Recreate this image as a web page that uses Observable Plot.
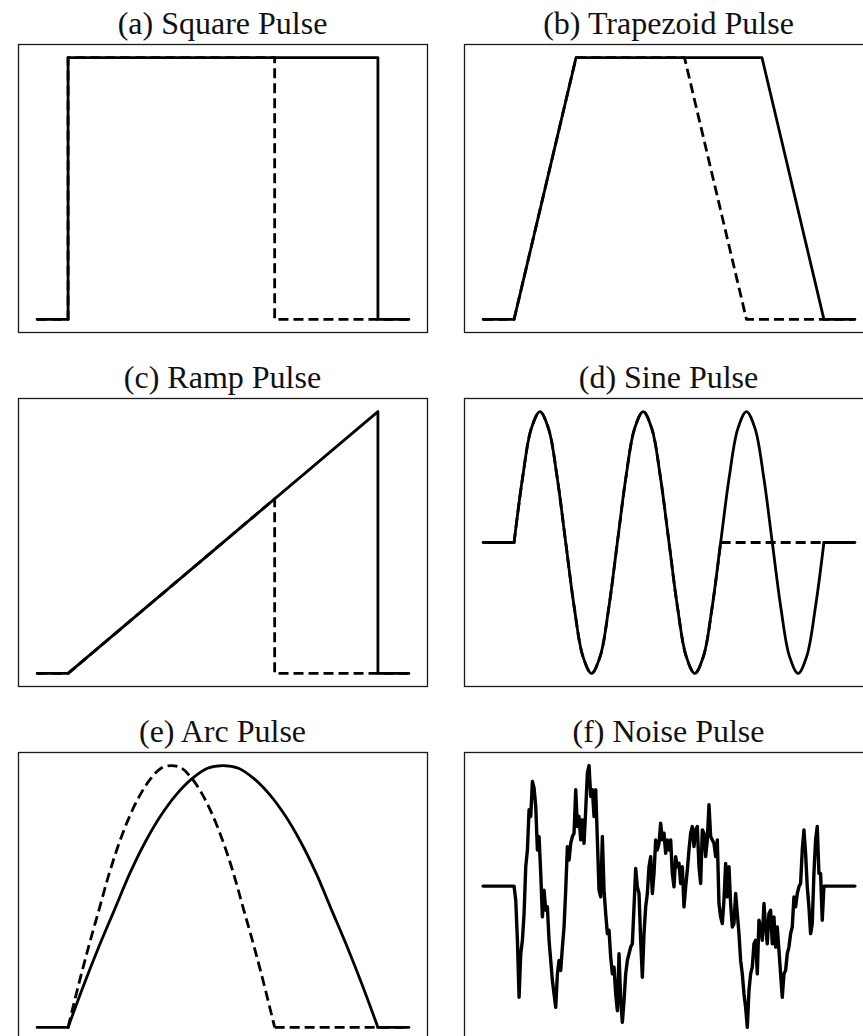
<!DOCTYPE html>
<html>
<head>
<meta charset="utf-8">
<script src="https://cdn.jsdelivr.net/npm/d3@7"></script>
<script src="https://cdn.jsdelivr.net/npm/@observablehq/plot@0.6"></script>
<style>
  body { margin: 0; background: #fff; }
  #page { position: relative; width: 863px; height: 1036px; overflow: hidden; background: #fff; }
  .title {
    position: absolute; width: 409px; text-align: center;
    font-family: "Liberation Serif", "DejaVu Serif", serif;
    font-size: 32px; line-height: 32px; color: #111; white-space: nowrap;
  }
</style>
</head>
<body>
<div id="page"></div>
<script>
// Panel titles
const titles = [
  "(a) Square Pulse", "(b) Trapezoid Pulse",
  "(c) Ramp Pulse", "(d) Sine Pulse",
  "(e) Arc Pulse", "(f) Noise Pulse"
];

// Pulse timing (time units), full pulse and the cut-short pulse
const timeSpan = [0, 12];
const pulseStart = 1;
const pulseEnd = 11;
const cutEnd = 7.667;

// (a) square pulse
const squareT = [0, 1, 1, 11, 11, 12];
const squareV = [0, 0, 1, 1, 0, 0];
const squareCutT = [0, 1, 1, 7.667, 7.667, 12];
const squareCutV = [0, 0, 1, 1, 0, 0];

// (b) trapezoid pulse
const trapT = [0, 1, 3, 9, 11, 12];
const trapV = [0, 0, 1, 1, 0, 0];
const trapCutT = [0, 1, 3, 6.5, 8.5, 12];
const trapCutV = [0, 0, 1, 1, 0, 0];

// (c) ramp pulse
const rampT = [0, 1, 11, 11, 12];
const rampV = [0, 0, 1, 0, 0];
const rampCutT = [0, 1, 7.667, 7.667, 12];
const rampCutV = [0, 0, 0.667, 0, 0];

// (d) sine pulse: samples every 1/12 period, three periods
const sineV = [
  0, 0.5, 0.87, 1, 0.87, 0.5, 0, -0.5, -0.87, -1, -0.87, -0.5,
  0, 0.5, 0.87, 1, 0.87, 0.5, 0, -0.5, -0.87, -1, -0.87, -0.5,
  0, 0.5, 0.87, 1, 0.87, 0.5, 0, -0.5, -0.87, -1, -0.87, -0.5,
  0
];
const sineCutCount = 25; // the cut pulse stops after two periods

// (e) arc pulse: half-wave samples
const arcV = [
  0, 0.16, 0.31, 0.45, 0.59, 0.71, 0.81, 0.89, 0.95, 0.99, 1,
  0.99, 0.95, 0.89, 0.81, 0.71, 0.59, 0.45, 0.31, 0.16, 0
];

// (f) noise pulse, evenly spaced over the pulse
const noiseV = [
  0, -0.42, -1.62, -3.32, -2.02, -1.62, -0.82, 0.58, 1.08, 2.28,
  2.08, 3.13, 2.93, 2.38, 1.08, 1.48, 0.38, -0.92, -0.12, -0.72,
  -0.62, -1.62, -2.22, -2.82, -3.22, -3.62, -2.62, -2.22, -2.52, -1.82,
  -1.22, -0.12, 1.18, 0.78, 1.28, 1.48, 1.58, 2.88, 1.78, 2.08,
  1.38, 1.98, 1.28, 2.28, 3.38, 3.6, 2.68, 2.88, 2.08, 2.88,
  1.38, -0.12, -0.32, 1.48, -0.12, -0.82, -1.42, -1.32, -2.12, -2.62,
  -2.42, -3.22, -3.72, -2.02, -3.42, -4.07, -3.42, -2.62, -2.22, -2.02,
  -1.82, -1.72, -0.62, 0.53, -0.02, -0.22, -1.62, -2.72, -1.42, -0.62,
  -0.22, 0.58, 0.88, -0.22, 0.38, 1.38, 1.08, 1.28, 1.88, 1.38,
  1.58, 0.98, 1.38, 1.08, 1.38, 0.38, -0.02, 0.88, 0.58, 0.68,
  0.08, 0.58, -0.62, -0.02, 0.48, 1.08, 1.58, 1.78, 1.18, 1.68,
  1.78, 0.58, 0.08, 1.68, 1.58, 0.88, 1.38, 2.43, 1.48, 1.38,
  1.28, 0.88, 1.38, -0.52, -0.92, -1.12, -0.42, 0.68, -0.32, 0.58,
  -0.52, -1.22, -1.12, -0.22, -0.82, -1.42, -2.22, -2.62, -3.22, -3.62,
  -4.22, -3.12, -2.62, -2.42, -1.72, -1.62, -2.62, -1.02, -1.22, -1.62,
  -0.52, -1.22, -1.72, -0.82, -0.72, -1.72, -0.92, -1.82, -1.22, -1.92,
  -2.62, -3.32, -2.62, -2.52, -2.02, -1.82, -1.42, -1.22, -0.32, -0.62,
  -0.22, -0.02, 0.08, 1.08, 1.68, 0.98, -0.02, -0.62, -1.42, -1.12,
  0.38, 1.38, 1.78, 0.38, 0.38, -1.02, 0
];

// ---- helpers ----
const pairs = (ts, vs) => ts.map((t, i) => ({t, v: vs[i]}));
const sampled = (vs, t0, t1) => vs.map((v, i) => ({t: t0 + i * (t1 - t0) / (vs.length - 1), v}));
const flat = (segments) => segments.flatMap(([a, b], k) => [{t: a, v: 0, seg: k}, {t: b, v: 0, seg: k}]);

const solid = {x: "t", y: "v", stroke: "#000", strokeWidth: 2.8, strokeLinejoin: "round"};
const dashed = {...solid, strokeDasharray: "10,5", strokeLinecap: "butt"};

const colLeft = [18, 464];
const rowTop = [44, 398, 752];
const frameW = 409, frameH = 288, pad = 2;

function padded([lo, hi]) {
  const m = (hi - lo) * 0.05;
  return [lo - m, hi + m];
}

const page = document.getElementById("page");

function panel(index, yDomain, marks) {
  const col = index % 2, row = Math.floor(index / 2);
  const left = colLeft[col], top = rowTop[row];

  const title = document.createElement("div");
  title.className = "title";
  title.textContent = titles[index];
  title.style.left = left + "px";
  title.style.top = (top - 37) + "px";
  page.appendChild(title);

  const svg = Plot.plot({
    width: frameW + 2 * pad,
    height: frameH + 2 * pad,
    margin: pad,
    x: {domain: padded(timeSpan), axis: null},
    y: {domain: padded(yDomain), axis: null},
    marks: [...marks, Plot.frame({stroke: "#1a1a1a", strokeWidth: 1.3})]
  });
  svg.style.position = "absolute";
  svg.style.left = (left - pad) + "px";
  svg.style.top = (top - pad) + "px";
  svg.style.background = "transparent";
  page.appendChild(svg);
}

// (a)
panel(0, [0, 1], [
  Plot.line(pairs(squareT, squareV), solid),
  Plot.line(pairs(squareCutT, squareCutV), dashed)
]);

// (b)
panel(1, [0, 1], [
  Plot.line(pairs(trapT, trapV), solid),
  Plot.line(pairs(trapCutT, trapCutV), dashed)
]);

// (c)
panel(2, [0, 1], [
  Plot.line(pairs(rampT, rampV), solid),
  Plot.line(pairs(rampCutT, rampCutV), dashed)
]);

// (d)
panel(3, [-1, 1], [
  Plot.line(flat([[timeSpan[0], pulseStart], [pulseEnd, timeSpan[1]]]), {...solid, z: "seg"}),
  Plot.line(sampled(sineV, pulseStart, pulseEnd), {...solid, curve: "catmull-rom"}),
  Plot.line(sampled(sineV.slice(0, sineCutCount), pulseStart, cutEnd), {...dashed, curve: "catmull-rom"}),
  Plot.line(flat([[cutEnd, timeSpan[1]]]), {...dashed, z: "seg"})
]);

// (e)
panel(4, [0, 1], [
  Plot.line(flat([[timeSpan[0], pulseStart], [pulseEnd, timeSpan[1]]]), {...solid, z: "seg"}),
  Plot.line(sampled(arcV, pulseStart, pulseEnd), {...solid, curve: "catmull-rom"}),
  Plot.line(sampled(arcV, pulseStart, cutEnd), {...dashed, curve: "catmull-rom"}),
  Plot.line(flat([[cutEnd, timeSpan[1]]]), {...dashed, z: "seg"})
]);

// (f) the noisy trace is drawn a touch heavier
const noiseRows = [
  {t: timeSpan[0], v: 0},
  ...sampled(noiseV, pulseStart, pulseEnd),
  {t: timeSpan[1], v: 0}
];
panel(5, d3.extent(noiseV), [
  Plot.line(noiseRows, {...solid, strokeWidth: 3.4})
]);
</script>
</body>
</html>
